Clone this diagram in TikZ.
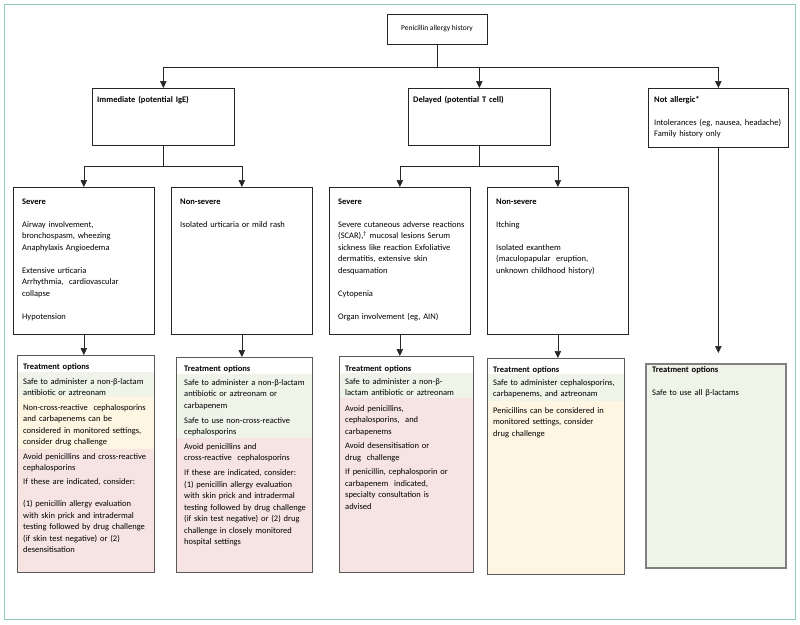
\documentclass[tikz,border=0pt]{standalone}
\usepackage{fontspec}
\setmainfont{Carlito}
\usepackage{xcolor}
\usetikzlibrary{arrows.meta}
\definecolor{framegreen}{RGB}{150,205,178}
\definecolor{optgreen}{RGB}{239,243,232}
\definecolor{optyellow}{RGB}{254,246,226}
\definecolor{optpink}{RGB}{246,228,227}

\begin{document}
\begin{tikzpicture}[x=1pt,y=-1pt,
  box/.style={shape=rectangle,draw=black!85,line width=0.7pt,anchor=north west,inner sep=0pt},
  optbox/.style={shape=rectangle,draw=black!65,line width=1.2pt,anchor=north west,inner sep=0pt},
  txt/.style={anchor=base west,align=left,inner sep=0pt,text width=150pt,
    font=\fontsize{8.5}{11.5}\selectfont},
  link/.style={draw=black!85,line width=0.7pt},
  arr/.style={link,-{Triangle[length=7pt,width=6.5pt]}}]
      %\draw[help lines] (0,0) grid[step=50] (800,624); % Only for Development
      \useasboundingbox (0,0) rectangle (800,624);
      \draw[draw=framegreen,line width=1.3pt] (4.5,4.5) rectangle (795.5,619.5);

      % first row
      \node[box,
        anchor=center,
        minimum width=100,
        minimum height=30,
        font=\fontsize{7.5}{9}\selectfont] (hist) at (437,29) {Penicillin allergy history};
      \node[box,minimum width=142,minimum height=57] (imm) at (92,88) {};
      \node[box,minimum width=142,minimum height=57] (del) at (408,88) {};
      \node[box,minimum width=140,minimum height=59] (noall) at (648,88) {};
      \node[txt] (immt) at (97,102) {\textbf{Immediate (potential IgE)}};
      \node[txt] (delt) at (413,102) {\textbf{Delayed (potential T cell)}};
      \node[txt,font=\fontsize{8.5}{10.5}\selectfont] (noallt) at (654,102)
        {\textbf{Not allergic*}\\[13pt]Intolerances (eg, nausea, headache)\\Family history only};

      % second row
      \node[box,minimum width=141,minimum height=147] (sev1) at (13,187) {};
      \node[box,minimum width=141,minimum height=147] (non1) at (171,187) {};
      \node[box,minimum width=141,minimum height=147] (sev2) at (329,187) {};
      \node[box,minimum width=141,minimum height=147] (non2) at (487,187) {};
      \node[txt] (sev1t) at (22,204) {\textbf{Severe}\\[11.5pt]
        Airway involvement,\\bronchospasm, wheezing\\Anaphylaxis Angioedema\\[11.5pt]
        Extensive urticaria\\Arrhythmia, \ cardiovascular\\collapse\\[11.5pt]
        Hypotension};
      \node[txt] (non1t) at (180,204) {\textbf{Non-severe}\\[11.5pt]
        Isolated urticaria or mild rash};
      \node[txt] (sev2t) at (338,204) {\textbf{Severe}\\[11.5pt]
        Severe cutaneous adverse reactions\\(SCAR),\textsuperscript{\dag} mucosal lesions Serum\\
        sickness like reaction Exfoliative\\dermatitis, extensive skin\\desquamation\\[11.5pt]
        Cytopenia\\[11.5pt]
        Organ involvement (eg, AIN)};
      \node[txt] (non2t) at (496,204) {\textbf{Non-severe}\\[11.5pt]
        Itching\\[11.5pt]
        Isolated exanthem\\(maculopapular \ eruption,\\unknown childhood history)};

      % treatment options, coloured bands first
      \fill[optgreen] (17,372) rectangle (154,397);
      \fill[optyellow] (17,397) rectangle (154,449);
      \fill[optpink] (17,449) rectangle (154,572);
      \fill[optgreen] (176,374) rectangle (312,438);
      \fill[optpink] (176,438) rectangle (312,572);
      \fill[optgreen] (339,373) rectangle (473,398);
      \fill[optpink] (339,398) rectangle (473,572);
      \fill[optgreen] (487,374) rectangle (624,401);
      \fill[optyellow] (487,401) rectangle (624,574);
      \fill[optgreen] (645,363) rectangle (785,567);

      \node[optbox,minimum width=137,minimum height=217] (t1) at (17,355) {};
      \node[optbox,minimum width=136,minimum height=215] (t2) at (176,357) {};
      \node[optbox,minimum width=134,minimum height=216] (t3) at (339,356) {};
      \node[optbox,minimum width=137,minimum height=216] (t4) at (487,358) {};
      \node[optbox,minimum width=140,minimum height=204,draw=black!50,line width=1.6pt] (t5) at (645,363) {};

      \node[txt] (t1h) at (23,369) {\textbf{Treatment options}};
      \node[txt] (t1a) at (23,384) {Safe to administer a non-β-lactam\\antibiotic or aztreonam};
      \node[txt] (t1b) at (23,410) {Non-cross-reactive \ cephalosporins\\and carbapenems can be\\
        considered in monitored settings,\\consider drug challenge};
      \node[txt] (t1c) at (23,459) {Avoid penicillins and cross-reactive\\cephalosporins\\[2.5pt]
        If these are indicated, consider:\\[10.5pt]
        (1) penicillin allergy evaluation\\with skin prick and intradermal\\
        testing followed by drug challenge\\(if skin test negative) or (2)\\desensitisation};

      \node[txt] (t2h) at (184,371) {\textbf{Treatment options}};
      \node[txt] (t2a) at (184,385) {Safe to administer a non-β-lactam\\antibiotic or aztreonam or\\
        carbapenem\\[3.5pt]Safe to use non-cross-reactive\\cephalosporins};
      \node[txt] (t2b) at (184,449) {Avoid penicillins and\\cross-reactive \ cephalosporins\\[3.5pt]
        If these are indicated, consider:\\(1) penicillin allergy evaluation\\
        with skin prick and intradermal\\testing followed by drug challenge\\
        (if skin test negative) or (2) drug\\challenge in closely monitored\\hospital settings};

      \node[txt] (t3h) at (345,371) {\textbf{Treatment options}};
      \node[txt] (t3a) at (345,384) {Safe to administer a non-β-\\lactam antibiotic or aztreonam};
      \node[txt] (t3b) at (345,411) {Avoid penicillins,\\cephalosporins, \ and\\carbapenems\\[3pt]
        Avoid desensitisation or\\drug \ challenge\\[3pt]
        If penicillin, cephalosporin or\\carbapenem \ indicated,\\specialty consultation is\\advised};

      \node[txt] (t4h) at (493,372) {\textbf{Treatment options}};
      \node[txt] (t4a) at (493,385) {Safe to administer cephalosporins,\\carbapenems, and aztreonam};
      \node[txt] (t4b) at (493,413) {Penicillins can be considered in\\monitored settings, consider\\
        drug challenge};

      \node[txt] (t5h) at (652,372) {\textbf{Treatment options}};
      \node[txt] (t5a) at (652,395) {Safe to use all β-lactams};

      % connectors
      \coordinate (bus1) at (0,67);
      \coordinate (bus2) at (0,166);
      \draw[link] (hist.south) -- (hist.south |- bus1);
      \draw[link] (imm.north |- bus1) -- (noall.north |- bus1);
      \draw[arr] (imm.north |- bus1) -- (imm.north);
      \draw[arr] (del.north |- bus1) -- (del.north);
      \draw[arr] (noall.north |- bus1) -- (noall.north);

      \draw[link] (imm.south) -- (imm.south |- bus2);
      \draw[link] (sev1.north |- bus2) -- (non1.north |- bus2);
      \draw[arr] (sev1.north |- bus2) -- (sev1.north);
      \draw[arr] (non1.north |- bus2) -- (non1.north);
      \draw[link] (del.south) -- (del.south |- bus2);
      \draw[link] (sev2.north |- bus2) -- (non2.north |- bus2);
      \draw[arr] (sev2.north |- bus2) -- (sev2.north);
      \draw[arr] (non2.north |- bus2) -- (non2.north);

      \draw[arr] (sev1.south) -- (sev1.south |- t1.north);
      \draw[arr] (non1.south) -- (non1.south |- t2.north);
      \draw[arr] (sev2.south) -- (sev2.south |- t3.north);
      \draw[arr] (non2.south) -- (non2.south |- t4.north);
      \draw[arr,shorten >=10pt] (noall.south) -- (noall.south |- t5.north);

    \end{tikzpicture}
\end{document}
